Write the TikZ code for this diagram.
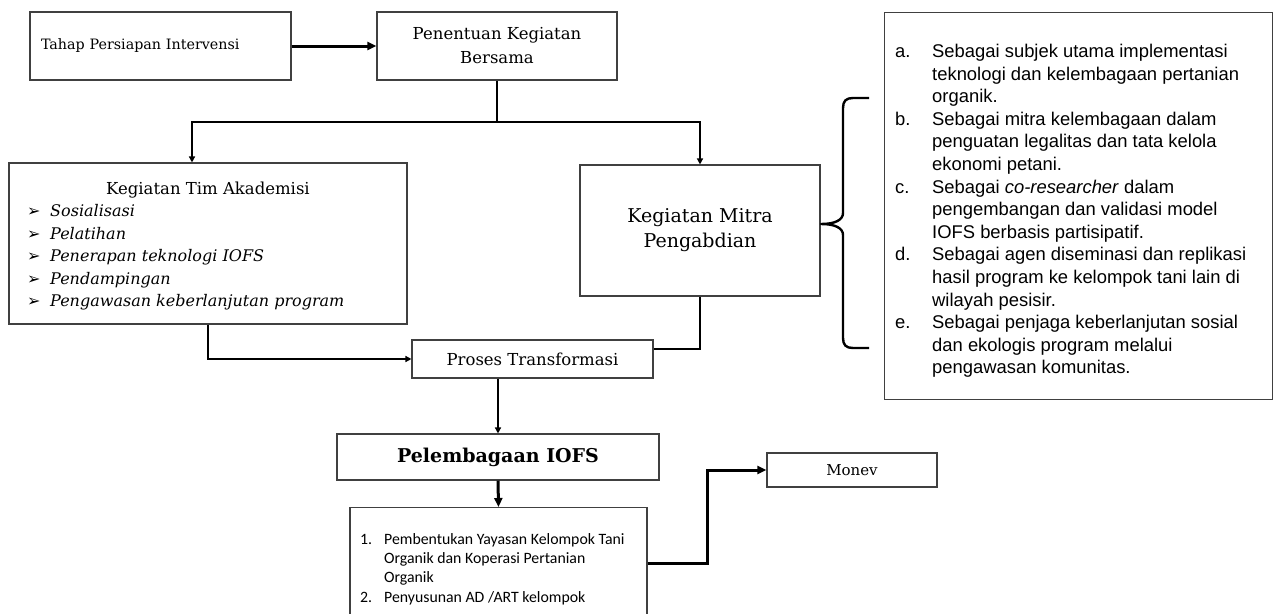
\documentclass[tikz,border=0pt]{standalone}
\usepackage{fontspec}
\setmainfont{DejaVu Serif}
\newfontfamily\arialf{Liberation Sans}
\newfontfamily\calf{Carlito}
\newfontfamily\symf{DejaVu Sans}
\usepackage{tikz}
\usetikzlibrary{arrows.meta,positioning,calc}
\tikzset{
  blk/.style={draw=black!75,line width=1.1pt,inner sep=0pt,align=center},
  arr/.style={-{Triangle[length=6pt,width=6pt]},line width=1.4pt},
  tarr/.style={-{Triangle[length=9pt,width=8pt]},line width=3pt},
  lnk/.style={line width=1.4pt},
  brc/.style={line width=2.4pt,line join=round},
  fs/.style 2 args={font={\fontsize{#1}{#2}\selectfont}},
}
\newcommand{\pnah}{{\symf\fontsize{16}{16}\selectfont ➢}}

\begin{document}
\begin{tikzpicture}[x=1pt,y=-1pt]
\path[use as bounding box,fill=white] (0,0) rectangle (1273,613);
\clip (0,0) rectangle (1273,613);
% boxes of the flow
\node[blk,minimum width=261,minimum height=68,text width=239pt,align=left,fs={14.3}{17}] (tahap) at (160.5,46) {Tahap Persiapan Intervensi};
\node[blk,minimum width=240,minimum height=68,fs={16.5}{24}] (tentu) at (497,46) {Penentuan Kegiatan\\Bersama};
\node[blk,minimum width=398,minimum height=161] (tim) at (208,243.5) {};
\node[fs={16.5}{20}] (timjudul) at (208,190) {Kegiatan Tim Akademisi};
\node[anchor=north west,inner sep=0pt,fs={16}{22.5}] (timlist) at (27,201) {\itshape
  \begin{tabular}{@{}p{23pt}@{}l@{}}
  \pnah & Sosialisasi\\
  \pnah & Pelatihan\\
  \pnah & Penerapan teknologi IOFS\\
  \pnah & Pendampingan\\
  \pnah & Pengawasan keberlanjutan program\\
  \end{tabular}};
\node[blk,minimum width=240,minimum height=131,fs={19}{25}] (mitra) at (700,230.5) {Kegiatan Mitra\\Pengabdian};
\node[blk,minimum width=241,minimum height=38,fs={16.5}{20}] (proses) at (532.5,359) {Proses Transformasi};
\node[blk,minimum width=322,minimum height=46,fs={19}{22}] (lembaga) at (498,457) {\bfseries Pelembagaan IOFS};
\node[blk,minimum width=297,minimum height=118,anchor=north] (daftar) at (498.5,507) {};
\node[anchor=north west,inner sep=0pt] (daftartxt) at (360,530.5) {\calf\fontsize{15.8}{19.3}\selectfont
  \begin{tabular}{@{}p{24pt}@{}l@{}}
  1. & Pembentukan Yayasan Kelompok Tani\\
     & Organik dan Koperasi Pertanian\\
     & Organik\\
  2. & Penyusunan AD /ART kelompok\\
  \end{tabular}};
\node[blk,minimum width=170,minimum height=34,fs={15}{18}] (monev) at (852,470) {Monev};
% role of the partner
\node[blk,minimum width=388,minimum height=387,anchor=north west] (peran) at (884,12) {};
\node[anchor=north west,inner sep=0pt] (perantxt) at (895,41.5) {\arialf\fontsize{18.4}{22.6}\selectfont
  \begin{tabular}{@{}p{37pt}@{}l@{}}
  a. & Sebagai subjek utama implementasi\\
     & teknologi dan kelembagaan pertanian\\
     & organik.\\
  b. & Sebagai mitra kelembagaan dalam\\
     & penguatan legalitas dan tata kelola\\
     & ekonomi petani.\\
  c. & Sebagai \textit{co-researcher} dalam\\
     & pengembangan dan validasi model\\
     & IOFS berbasis partisipatif.\\
  d. & Sebagai agen diseminasi dan replikasi\\
     & hasil program ke kelompok tani lain di\\
     & wilayah pesisir.\\
  e. & Sebagai penjaga keberlanjutan sosial\\
     & dan ekologis program melalui\\
     & pengawasan komunitas.\\
  \end{tabular}};
% connectors
\coordinate (bagi) at (497,122);
\draw[tarr] (tahap.east) -- (tentu.west);
\draw[lnk] (tentu.south) -- (bagi);
\draw[arr] (bagi) -| ([xshift=-16pt]tim.north);
\draw[arr] (bagi) -| (mitra.north);
\draw[arr] (tim.south) |- (proses.west);
\draw[lnk] (mitra.south) |- ([yshift=10pt]proses.east);
\draw[arr] (proses.south -| lembaga.north) -- (lembaga.north);
\draw[tarr] (lembaga.south) -- (daftar.north);
\draw[tarr] ([yshift=3pt]daftar.east) -- ++(60,0) |- (monev.west);
% brace
\coordinate (ujung) at (821,224);
\draw[brc] (869,98) -- (853,98) .. controls (846,98) and (843,101) .. (843,108) -- (843,213)
  .. controls (843,220) and (835,224) .. (ujung) .. controls (835,224) and (843,228) .. (843,235)
  -- (843,338) .. controls (843,345) and (846,348) .. (853,348) -- (869,348);
\end{tikzpicture}
\end{document}
